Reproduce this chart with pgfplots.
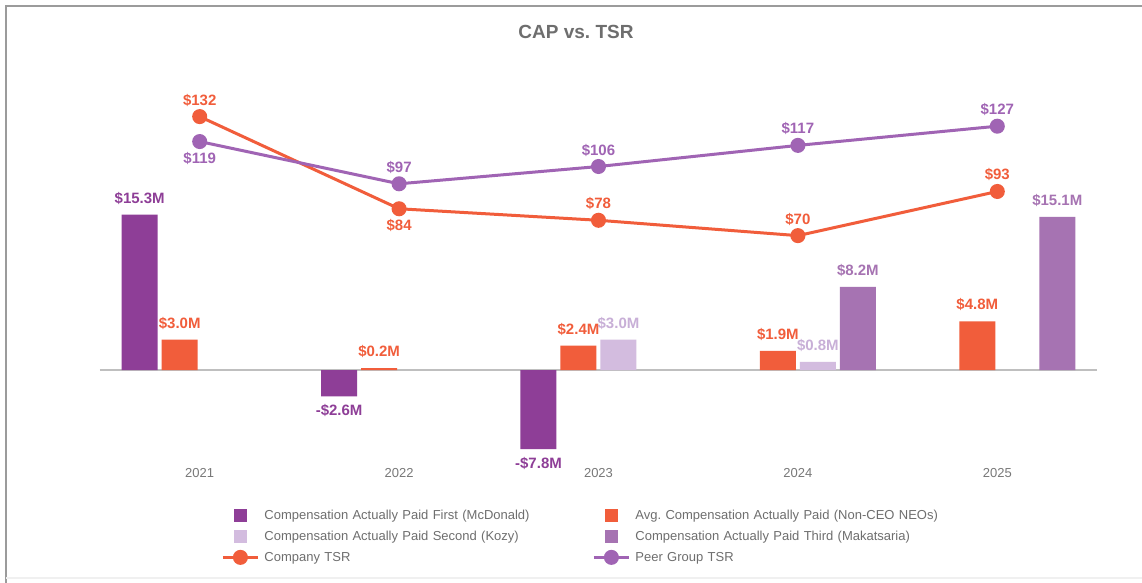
\documentclass[border=0pt]{standalone}
\usepackage{pgfplots}
\pgfplotsset{compat=1.18}
\usepackage{fontspec}
\setmainfont{Liberation Sans}
\frenchspacing
\definecolor{mcd}{RGB}{142,62,151}
\definecolor{avg}{RGB}{241,93,59}
\definecolor{koz}{RGB}{211,188,223}
\definecolor{kozlab}{RGB}{200,175,215}
\definecolor{mak}{RGB}{166,115,178}
\definecolor{peer}{RGB}{160,100,180}
\definecolor{ttl}{RGB}{110,110,110}
\definecolor{tck}{RGB}{120,120,120}
\definecolor{frm}{RGB}{155,155,155}
\pgfplotsset{
  barlab/.style={nodes near coords, point meta=explicit symbolic,
    visualization depends on={value \thisrow{dy}\as\dy},
    every node near coord/.append style={anchor=center, yshift=\dy pt, text=#1,
      font=\bfseries\fontsize{7.5}{9}\selectfont}},
  barimg/.style={legend image code/.code={
      \path[draw=none, fill=none] (0pt,0pt) -- (17.5pt,0pt);
      \fill[##1, draw=none] (5.5pt,-3.25pt) rectangle (12pt,3.25pt);}},
  lineimg/.style={legend image code/.code={
      \draw[mark repeat=2,mark phase=2,##1] plot coordinates {(0pt,0pt) (8.75pt,0pt) (17.5pt,0pt)};}},
}
\begin{document}
\begin{tikzpicture}
\useasboundingbox (0,0) rectangle (571pt,291.5pt);
\fill[white] (0,0) rectangle (571pt,291.5pt);
\draw[frm, line width=1pt] (3pt,0pt) -- (3pt,288.5pt) -- (571pt,288.5pt);
\draw[black!6, line width=0.8pt] (3pt,2.5pt) -- (571pt,2.5pt);
\node[font=\bfseries\fontsize{9.5}{11}\selectfont, text=ttl] at (288pt,275.5pt) {CAP vs. TSR};

\begin{axis}[
  at={(50pt,60.8pt)}, anchor=south west,
  scale only axis, width=498.5pt, height=187.78pt,
  xmin=-0.5, xmax=4.5, ymin=-9, ymax=28,
  ybar=2pt, bar width=18pt,
  axis line style={draw=none}, major tick length=0pt,
  ytick=\empty,
  xtick={0,1,2,3,4}, xticklabels={2021,2022,2023,2024,2025},
  xticklabel style={font=\fontsize{6.5}{8}\selectfont, text=tck},
  extra y ticks={0}, extra y tick labels={},
  extra y tick style={grid=major, major grid style={draw=black!25, line width=0.75pt}},
]
\addplot[fill=mcd, draw=none, barlab=mcd] table[x=x,y=y,meta=lab]{
x y lab dy
0 15.3 \$15.3M 8.25
1 -2.6 -\$2.6M -7.25
2 -7.8 -\$7.8M -7.25
};
\addplot[fill=avg, draw=none, barlab=avg] table[x=x,y=y,meta=lab]{
x y lab dy
0 3.0 \$3.0M 8.25
1 0.2 \$0.2M 8.25
2 2.4 \$2.4M 8.25
3 1.9 \$1.9M 8.25
4 4.8 \$4.8M 8.25
};
\addplot[fill=koz, draw=none, barlab=kozlab] table[x=x,y=y,meta=lab]{
x y lab dy
2 3.0 \$3.0M 8.25
3 0.8 \$0.8M 8.25
};
\addplot[fill=mak, draw=none, barlab=mak] table[x=x,y=y,meta=lab]{
x y lab dy
3 8.2 \$8.2M 8.25
4 15.1 \$15.1M 8.25
};
\end{axis}

\begin{axis}[
  at={(50pt,60.8pt)}, anchor=south west,
  scale only axis, width=498.5pt, height=187.78pt,
  xmin=-0.5, xmax=4.5, ymin=-47.578, ymax=148.02,
  hide axis,
  legend columns=2,
  legend cell align=left,
  legend style={at={(0.1214,-0.1227)}, anchor=north west, draw=none, fill=none,
    inner sep=0pt, column sep=2.5pt, row sep=3pt,
    font=\fontsize{6.5}{8}\selectfont, text=ttl,
    nodes={inner sep=0pt, text height=6pt, text depth=1.5pt, text width=158pt, align=left},
    /tikz/every even column/.append style={column sep=6pt}},
]
\addlegendimage{barimg, fill=mcd, draw=none}
\addlegendentry{Compensation Actually Paid First (McDonald)}
\addlegendimage{barimg, fill=avg, draw=none}
\addlegendentry{Avg. Compensation Actually Paid (Non-CEO NEOs)}
\addlegendimage{barimg, fill=koz, draw=none}
\addlegendentry{Compensation Actually Paid Second (Kozy)}
\addlegendimage{barimg, fill=mak, draw=none}
\addlegendentry{Compensation Actually Paid Third (Makatsaria)}
\addplot[lineimg, color=avg, line width=1.5pt, mark=*, mark size=3pt, barlab=avg] table[x=x,y=y,meta=lab]{
x y lab dy
0 132 \$132 8.25
1 84 \$84 -8.25
2 78 \$78 8.25
3 70 \$70 8.25
4 93 \$93 8.25
};
\addlegendentry{Company TSR}
\addplot[lineimg, color=peer, line width=1.5pt, mark=*, mark size=3pt, barlab=peer] table[x=x,y=y,meta=lab]{
x y lab dy
0 119 \$119 -8.25
1 97 \$97 8.25
2 106 \$106 8.25
3 117 \$117 8.25
4 127 \$127 8.25
};
\addlegendentry{Peer Group TSR}
\end{axis}
\end{tikzpicture}
\end{document}
